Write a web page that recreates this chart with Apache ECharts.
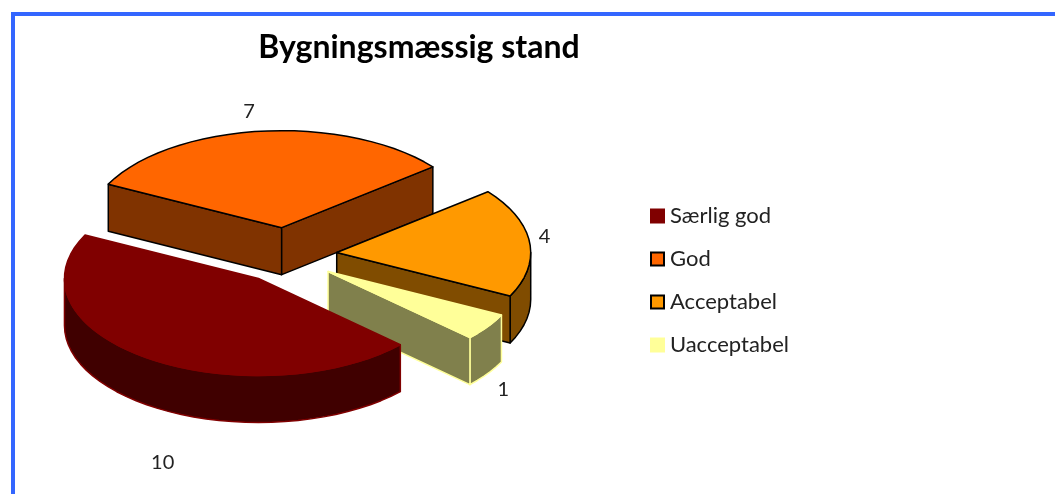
<!DOCTYPE html>
<html>
<head>
<meta charset="utf-8">
<script src="https://cdn.jsdelivr.net/npm/echarts@6/dist/echarts.min.js"></script>
<style>
  html, body { margin: 0; padding: 0; background: #fff; }
  #chart { width: 1055px; height: 494px; }
</style>
</head>
<body>
<div id="chart"></div>
<script>
var categories = ['Særlig god', 'God', 'Acceptabel', 'Uacceptabel'];
var values = [10, 7, 4, 1];

var topColors = ['#800000', '#ff6600', '#ff9900', '#ffff99'];
var wallColors = ['#400000', '#803300', '#804c00', '#80804c'];
var lineColors = ['#800000', '#000000', '#000000', '#ffff99'];
var labelOffsets = [[15, 104], [-12, -20], [15, -6], [16, 63]];
// back to front
var drawOrder = [1, 2, 3, 0];

var cx = 287, cy = 255.5, rx = 194, ry = 97, depth = 47;
var explodeX = 50, explodeY = 28;
var startAngle = 43;
var fontName = 'Lato';

var total = values.reduce(function (a, b) { return a + b; }, 0);
var RAD = Math.PI / 180;

// sweep of each slice, clockwise on screen
var sweeps = [];
var at = startAngle;
values.forEach(function (v) {
  sweeps.push([at, at + v / total * 360]);
  at += v / total * 360;
});

function arcPoints(x, y, from, to, dy) {
  var pts = [];
  var n = Math.max(1, Math.ceil((to - from) / 4));
  for (var i = 0; i <= n; i++) {
    var t = (from + (to - from) * i / n) * RAD;
    pts.push([x + rx * Math.cos(t), y + ry * Math.sin(t) + dy]);
  }
  return pts;
}

function poly(points, fill, stroke) {
  return {
    type: 'polygon',
    shape: { points: points },
    style: { fill: fill, stroke: stroke, lineWidth: 1.5, lineJoin: 'round' }
  };
}

function renderSlice(idx) {
  return function () {
    var t0 = sweeps[idx][0], t1 = sweeps[idx][1], mid = (t0 + t1) / 2;
    var x = cx + explodeX * Math.cos(mid * RAD);
    var y = cy + explodeY * Math.sin(mid * RAD);
    var fill = topColors[idx], wall = wallColors[idx], line = lineColors[idx];
    var children = [];

    // outer wall, only the part turned to the viewer
    [[0, 180], [360, 540]].forEach(function (range) {
      var a = Math.max(t0, range[0]), b = Math.min(t1, range[1]);
      if (b > a) {
        children.push(poly(arcPoints(x, y, a, b, 0).concat(arcPoints(x, y, a, b, depth).reverse()), wall, line));
      }
    });

    // cut faces
    function face(angle) {
      var e = arcPoints(x, y, angle, angle, 0)[0];
      children.push(poly([[x, y], e, [e[0], e[1] + depth], [x, y + depth]], wall, line));
    }
    if (Math.cos(t0 * RAD) < 0) face(t0);
    if (Math.cos(t1 * RAD) > 0) face(t1);

    // top
    children.push(poly([[x, y]].concat(arcPoints(x, y, t0, t1, 0)), fill, line));

    // value label
    var lp = [x + rx * Math.cos(mid * RAD) + labelOffsets[idx][0],
              y + ry * Math.sin(mid * RAD) + labelOffsets[idx][1]];
    children.push({
      type: 'text',
      style: {
        x: lp[0], y: lp[1], text: String(values[idx]),
        font: '20px ' + fontName, fill: '#222', align: 'center', verticalAlign: 'middle'
      },
      z2: 10
    });
    return { type: 'group', children: children };
  };
}

var myChart = echarts.init(document.getElementById('chart'));
var option = {
  animation: false,
  backgroundColor: '#fff',
  title: {
    text: 'Bygningsmæssig stand',
    left: 414,
    top: 27,
    textAlign: 'center',
    textStyle: { fontFamily: fontName, fontSize: 32, fontWeight: 'bold', color: '#000' }
  },
  legend: {
    orient: 'vertical',
    left: 645,
    top: 200,
    itemWidth: 13,
    itemHeight: 13,
    itemGap: 21,
    icon: 'rect',
    data: categories,
    textStyle: { fontFamily: fontName, fontSize: 22, color: '#222', padding: [0, 0, 0, 1] }
  },
  graphic: [
    { type: 'rect', shape: { x: 11, y: 12, width: 1044, height: 4 }, style: { fill: '#3366ff' } },
    { type: 'rect', shape: { x: 11, y: 12, width: 4, height: 482 }, style: { fill: '#3366ff' } }
  ],
  series: drawOrder.map(function (idx, order) {
    return {
      type: 'custom',
      name: categories[idx],
      coordinateSystem: 'none',
      z: 2 + order,
      silent: true,
      itemStyle: { color: topColors[idx], borderColor: lineColors[idx], borderWidth: 1.5 },
      data: [values[idx]],
      renderItem: renderSlice(idx)
    };
  })
};
option && myChart.setOption(option);
</script>
</body>
</html>
